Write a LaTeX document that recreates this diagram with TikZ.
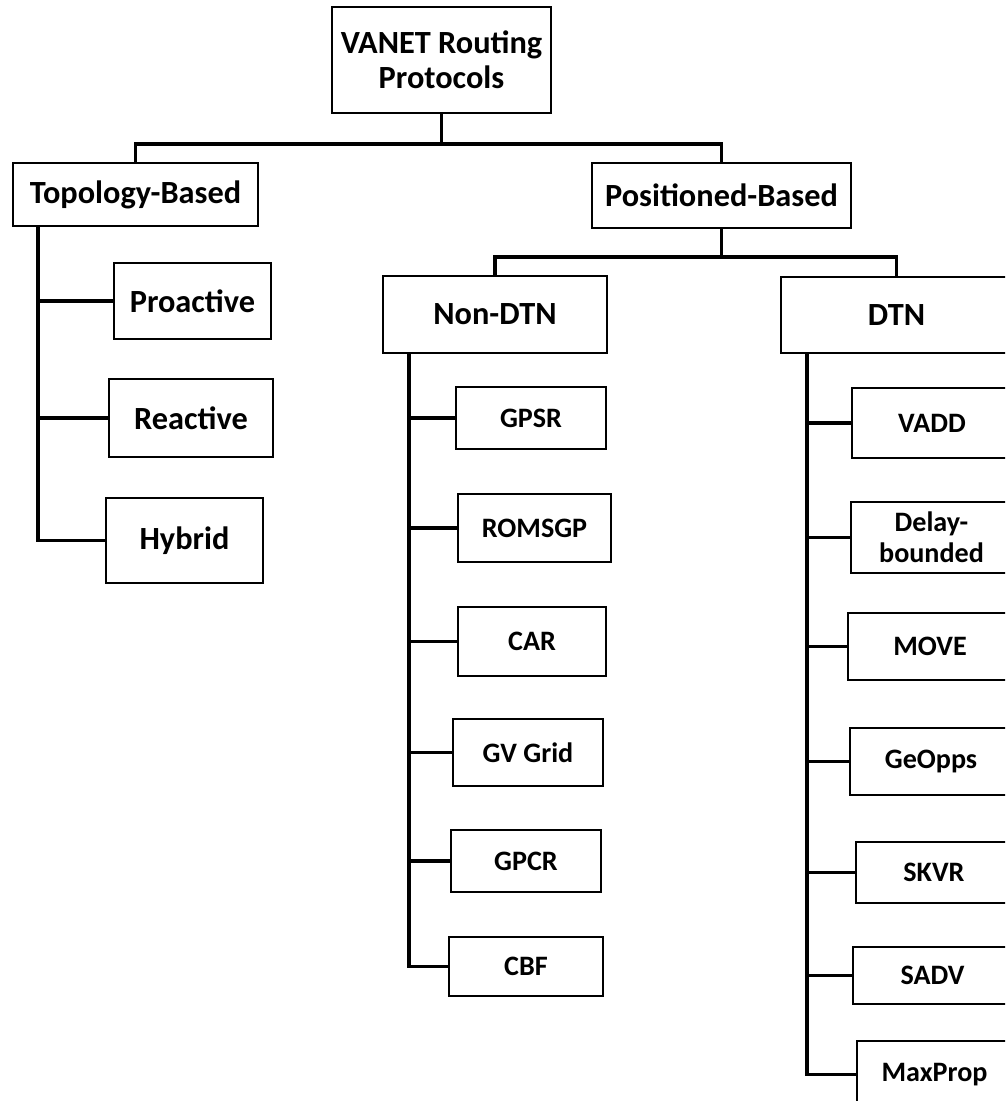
\documentclass[tikz,border=0pt]{standalone}
\usepackage{fontspec}
\setmainfont{Carlito}

\tikzset{
    box/.style={draw, line width=1.1pt, fill=white, align=center, inner sep=0pt, font=\bfseries\fontsize{23}{25}\selectfont},
    leaf/.style={box, font=\bfseries\fontsize{20}{22}\selectfont},
    sz/.style 2 args={minimum width=#1*0.25mm, minimum height=#2*0.25mm},
    conn/.style={line width=2.6pt}
}

\begin{document}
\begin{tikzpicture}[x=0.25mm, y=-0.25mm]
    \useasboundingbox (0,0) rectangle (1005,1101);
    \clip (0,0) rectangle (1005,1101);

    % top levels
    \node[box, sz={219}{106}] (root) at (441.5,60) {VANET Routing\\Protocols};
    \node[box, sz={245}{63}] (topo) at (135.5,194.5) {Topology-Based};
    \node[box, sz={259}{65}] (pos) at (721.5,195.5) {Positioned-Based};
    \node[box, sz={224}{77}] (nondtn) at (495,314.5) {Non-DTN};
    \node[box, sz={231}{76}] (dtn) at (896.5,315) {DTN};

    % topology-based
    \node[box, sz={157}{76}] (proactive) at (192.5,301) {Proactive};
    \node[box, sz={164}{78}] (reactive) at (191,418) {Reactive};
    \node[box, sz={157}{85}] (hybrid) at (184.5,540.5) {Hybrid};

    % non-DTN
    \node[leaf, sz={150}{62}] (gpsr) at (531,418) {GPSR};
    \node[leaf, sz={153}{68}] (romsgp) at (534.5,528) {ROMSGP};
    \node[leaf, sz={148}{69}] (car) at (532,641.5) {CAR};
    \node[leaf, sz={150}{67}] (gvgrid) at (528,752.5) {GV Grid};
    \node[leaf, sz={150}{62}] (gpcr) at (526,861) {GPCR};
    \node[leaf, sz={154}{59}] (cbf) at (526,966.5) {CBF};

    % DTN
    \node[leaf, sz={160}{70}] (vadd) at (932,423) {VADD};
    \node[leaf, sz={161}{71}] (delay) at (931.5,537.5) {Delay-\\bounded};
    \node[leaf, sz={164}{67}] (move) at (930,646.5) {MOVE};
    \node[leaf, sz={162}{67}] (geopps) at (931,761.5) {GeOpps};
    \node[leaf, sz={156}{61}] (skvr) at (934,872.5) {SKVR};
    \node[leaf, sz={159}{57}] (sadv) at (932.5,975.5) {SADV};
    \node[leaf, sz={155}{67}] (maxprop) at (934.5,1074.5) {MaxProp};

    % tree connectors
    \draw[conn] (root.south) -- ++(0,30) -| (topo.north);
    \draw[conn] (root.south) -- ++(0,30) -| (pos.north);
    \draw[conn] (pos.south) -- ++(0,28) -| (nondtn.north);
    \draw[conn] (pos.south) -- ++(0,28) -| (dtn.north);

    \coordinate (tbus) at (38,226);
    \coordinate (nbus) at (409,353);
    \coordinate (dbus) at (807,353);

    \foreach \n in {proactive,reactive,hybrid}
        \draw[conn] (tbus) |- (\n.west);
    \foreach \n in {gpsr,romsgp,car,gvgrid,gpcr,cbf}
        \draw[conn] (nbus) |- (\n.west);
    \foreach \n in {vadd,delay,move,geopps,skvr,sadv,maxprop}
        \draw[conn] (dbus) |- (\n.west);
\end{tikzpicture}
\end{document}
